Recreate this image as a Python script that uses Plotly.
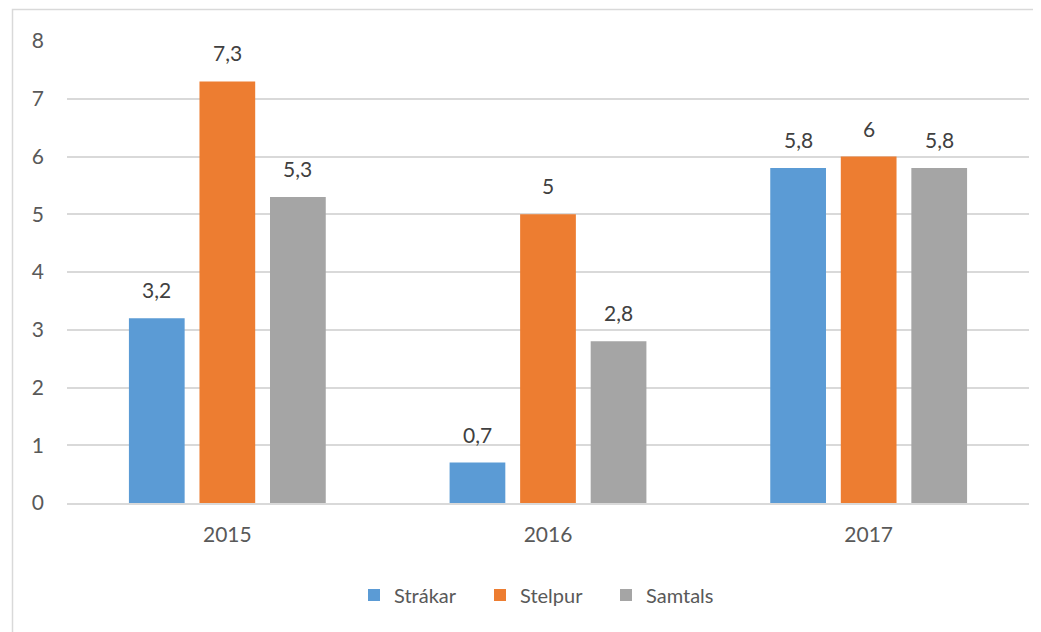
import plotly.graph_objects as go

years = ["2015", "2016", "2017"]
strakar = [3.2, 0.7, 5.8]
stelpur = [7.3, 5.0, 6.0]
samtals = [5.3, 2.8, 5.8]
series_names = ["Strákar", "Stelpur", "Samtals"]
colors = ["#5B9BD5", "#ED7D31", "#A5A5A5"]
y_ticks = [0, 1, 2, 3, 4, 5, 6, 7, 8]

def lab(v):
    return f"{v:g}".replace(".", ",")

FONT = "Lato"
fig = go.Figure()
all_series = [strakar, stelpur, samtals]
for name, vals, c in zip(series_names, all_series, colors):
    fig.add_trace(go.Bar(
        x=years, y=vals, name=name, marker=dict(color=c, line=dict(width=0)),
    ))

# page body has 8px margin; figure coordinates = window coordinates - 8
OFF = 8
W, H = 1041, 632
l, t = 67 - OFF, 41 - OFF
pw, ph = 962, 462
r = W - l - pw
b = H - t - ph

def px(x):
    return (x - OFF - l) / pw

def py(y):
    return (H - b - (y - OFF)) / ph

slot = 70.5
annotations = []
for i, vals in enumerate(all_series):
    for j, v in enumerate(vals):
        annotations.append(dict(
            x=j, y=v, xref="x", yref="y", text=lab(v), showarrow=False,
            xshift=(i - 1) * slot, yshift=14, yanchor="bottom",
            font=dict(family=FONT, size=21, color="#404040"),
        ))

fig.update_layout(
    width=W, height=H,
    margin=dict(l=l, r=r, t=t, b=b),
    paper_bgcolor="white", plot_bgcolor="white",
    font=dict(family=FONT, size=21, color="#595959"),
    barmode="group", bargap=0.34, bargroupgap=0.21,
    showlegend=True,
    legend=dict(orientation="h", x=px(354), xanchor="left", y=py(595), yanchor="middle",
                font=dict(size=20, color="#595959"), itemwidth=30, traceorder="normal",
                entrywidth=81, entrywidthmode="pixels"),
    xaxis=dict(type="category", range=[-0.5, len(years) - 0.5], showgrid=False, showline=True,
               linecolor="#d9d9d9", linewidth=1.5,
               ticks="", ticklabelstandoff=12, tickfont=dict(size=21, color="#595959")),
    yaxis=dict(range=[0, 8], tickvals=y_ticks, showgrid=True, gridcolor="#d9d9d9",
               gridwidth=1.5, zeroline=False, showline=False, ticks="",
               ticklabelstandoff=22, tickfont=dict(size=21, color="#595959")),
    annotations=annotations,
    shapes=[dict(type="rect", xref="paper", yref="paper",
                 x0=px(12.5), x1=px(1070), y0=py(660), y1=py(9.5),
                 line=dict(color="#d9d9d9", width=1.5), fillcolor="rgba(0,0,0,0)", layer="below")],
)

fig.write_html("out.html")
